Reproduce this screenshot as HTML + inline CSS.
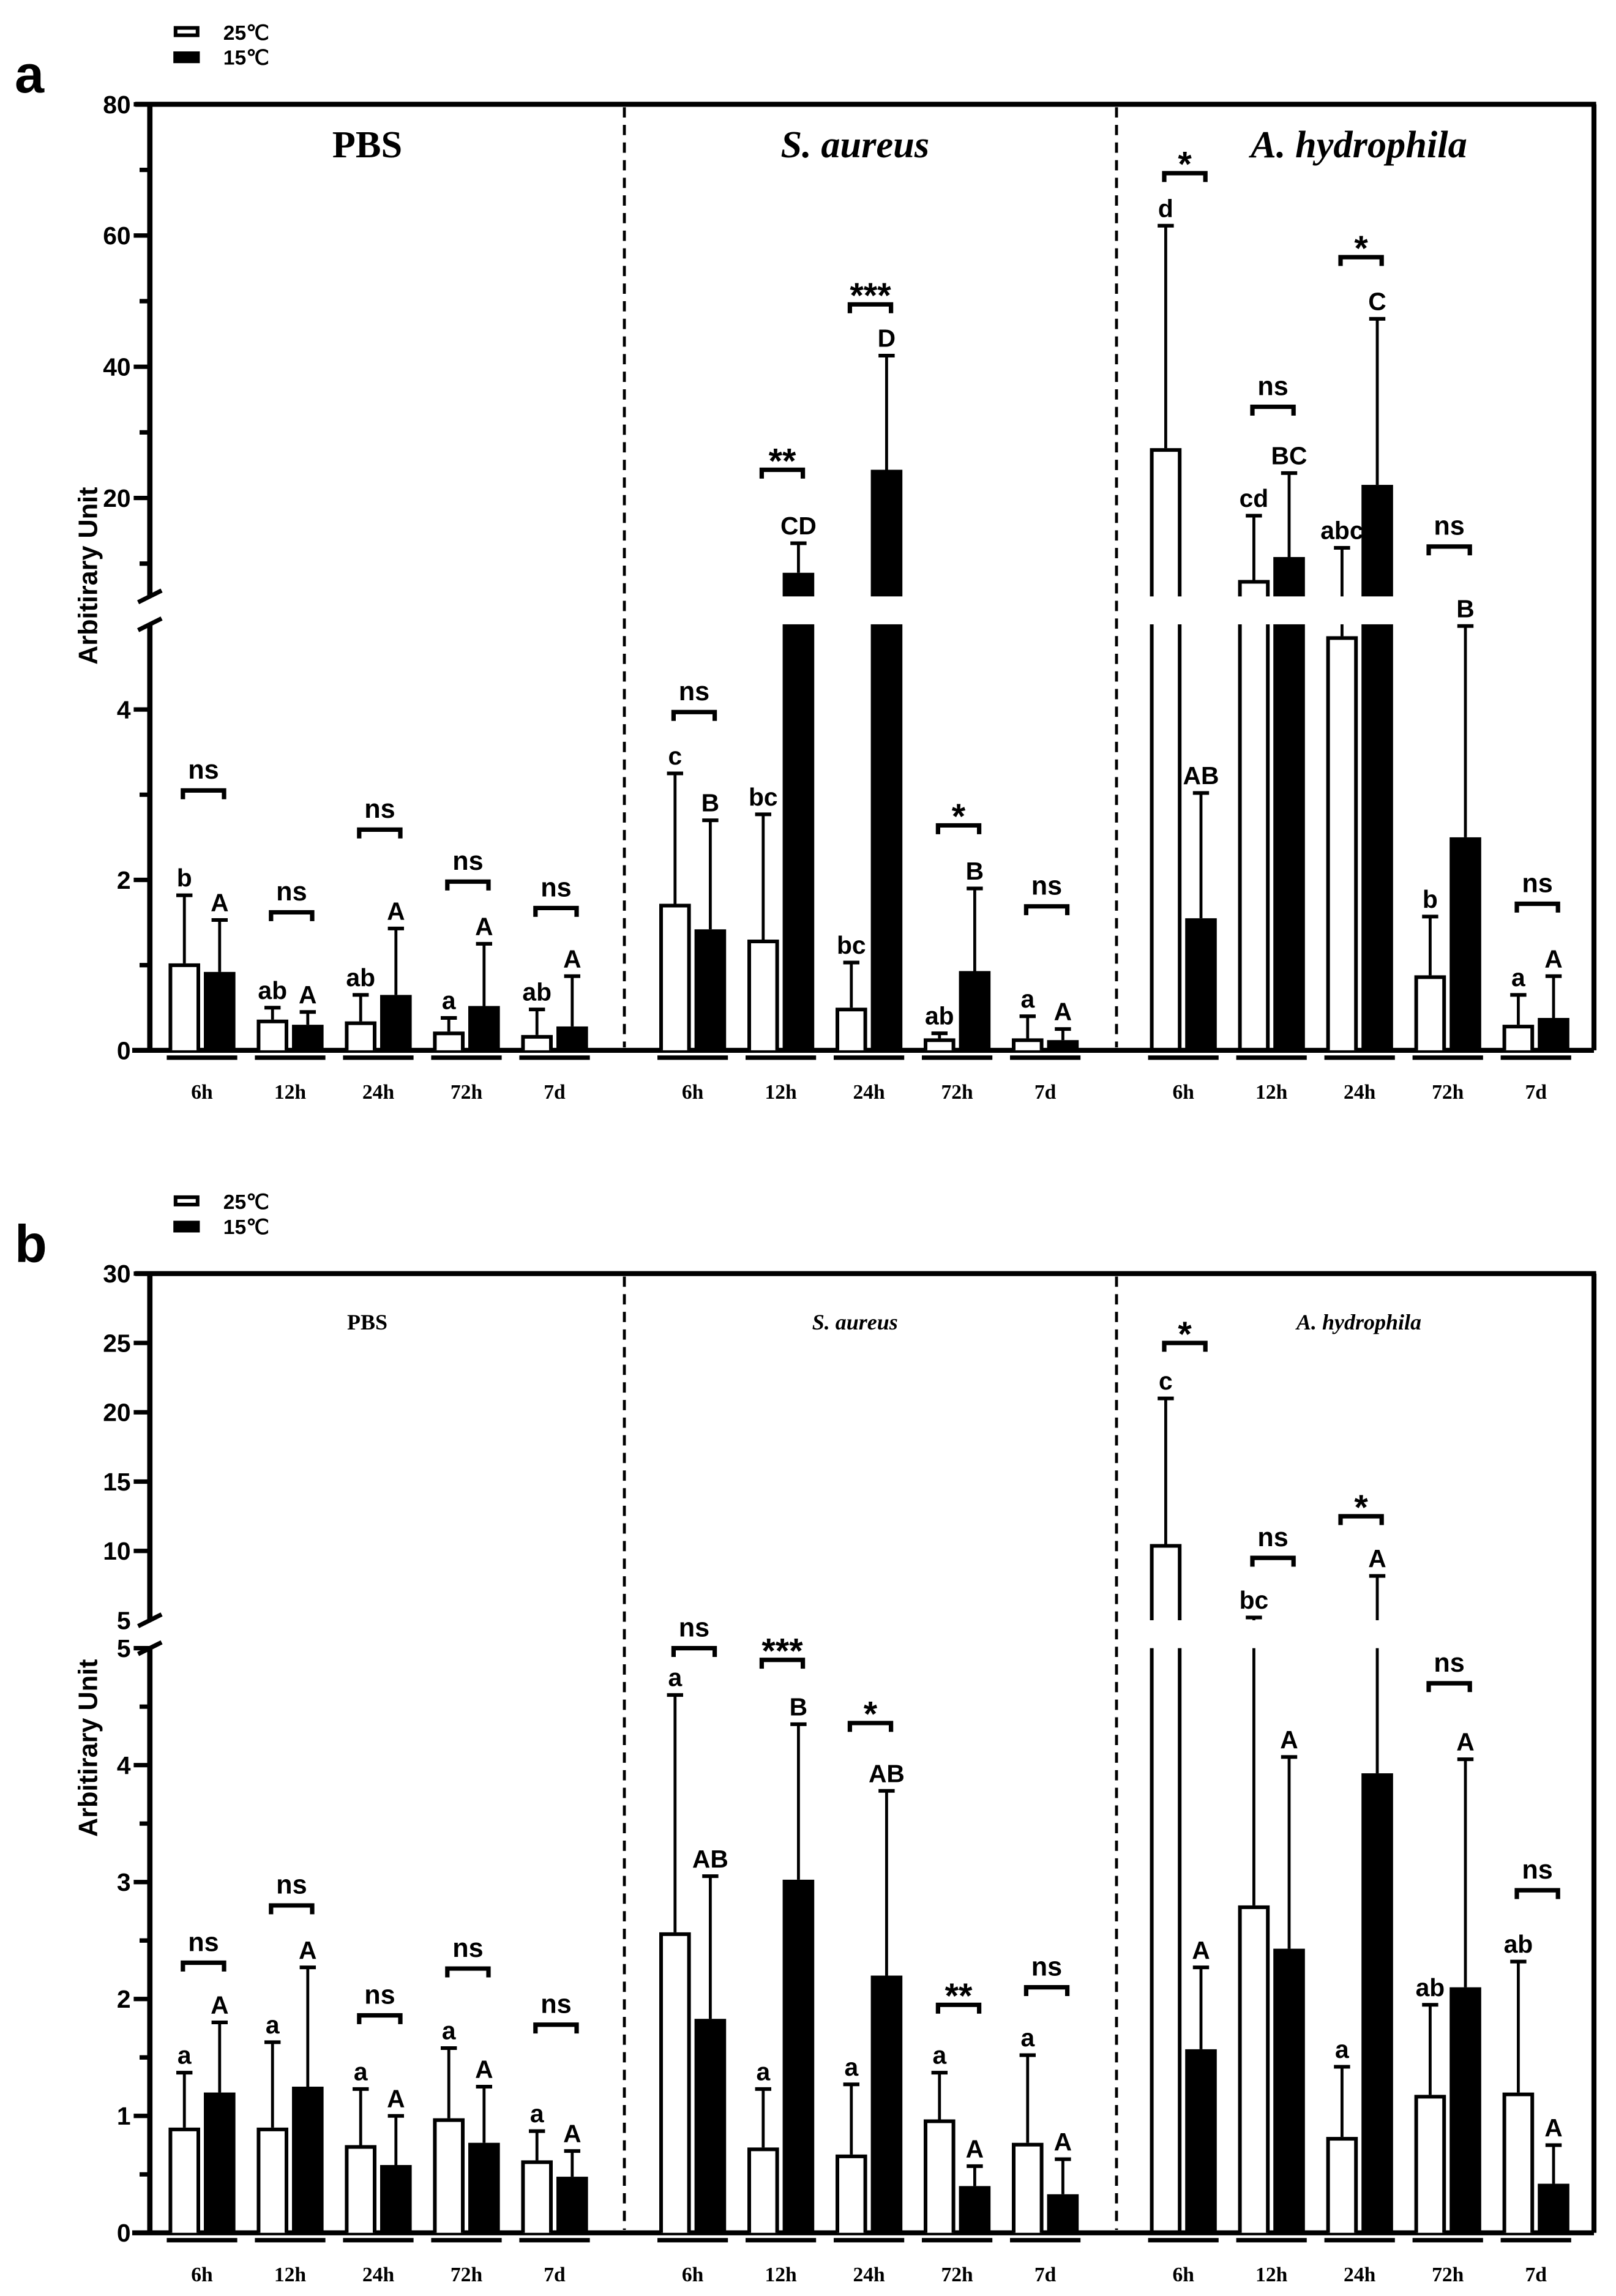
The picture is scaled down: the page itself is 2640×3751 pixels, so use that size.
<!DOCTYPE html>
<html><head><meta charset="utf-8"><style>
html,body{margin:0;padding:0;background:#fff;}
svg{display:block;}
text{font-family:"Liberation Sans",Arial,sans-serif;}
text.serif{font-family:"Liberation Serif","DejaVu Serif",serif;}
</style></head><body>
<svg id="chart" xmlns="http://www.w3.org/2000/svg" width="2640" height="3751" viewBox="0 0 1100 1563" preserveAspectRatio="none"></svg>
<script>
// ---- data ----
const categories = ["6h","12h","24h","72h","7d"];
const groups = ["PBS","S. aureus","A. hydrophila"];
// Panel a
const aWhite = [1.02,0.36,0.34,0.22,0.18, 1.72,1.3,0.5,0.14,0.14, 27.6,7.5,4.86,0.88,0.3];
const aWhiteErr = [1.82,0.5,0.65,0.38,0.48, 3.25,2.77,1.03,0.2,0.4, 61.5,17.3,12.4,1.57,0.65];
const aBlack = [0.92,0.3,0.65,0.52,0.28, 1.42,8.6,24.3,0.93,0.12, 1.55,11,22,2.5,0.38];
const aBlackErr = [1.53,0.45,1.43,1.25,0.87, 2.7,13.1,41.7,1.9,0.25, 3.02,23.8,47.3,4.98,0.87];
const aWhiteLetters = ["b","ab","ab","a","ab", "c","bc","bc","ab","a", "d","cd","abc","b","a"];
const aBlackLetters = ["A","A","A","A","A", "B","CD","D","B","A", "AB","BC","C","B","A"];
const aSig = ["ns","ns","ns","ns","ns", "ns","**","***","*","ns", "*","ns","*","ns","ns"];
const aSigLevel = [3.05,1.62,2.59,1.98,1.67, 3.97,24.3,49.5,2.64,1.69, 69.5,33.9,56.7,12.6,1.72];
// Panel b
const bWhite = [0.9,0.9,0.75,0.98,0.62, 2.57,0.73,0.67,0.97,0.77, 10.5,2.8,0.82,1.18,1.2];
const bWhiteErr = [1.37,1.63,1.23,1.58,0.87, 4.6,1.23,1.27,1.37,1.52, 21,5.2,1.42,1.95,2.32];
const bBlack = [1.2,1.25,0.58,0.77,0.48, 1.83,3.02,2.2,0.4,0.33, 1.57,2.43,3.93,2.1,0.42];
const bBlackErr = [1.8,2.27,1.0,1.25,0.7, 3.05,4.35,3.78,0.57,0.63, 2.27,4.07,8.2,4.05,0.75];
const bWhiteLetters = ["a","a","a","a","a", "a","a","a","a","a", "c","bc","a","ab","ab"];
const bBlackLetters = ["A","A","A","A","A", "AB","B","AB","A","A", "A","A","A","A","A"];
const bSig = ["ns","ns","ns","ns","ns", "ns","***","*","**","ns", "*","ns","*","ns","ns"];
const bSigLevel = [2.31,2.8,1.86,2.26,1.78, 5.0,4.9,4.36,1.95,2.1, 25,9.5,12.5,4.7,2.93];
const aMajorTicks = [0,2,4,20,40,60,80];
const aMinorTicks = [1,3,10,30,50,70];
const bMajorTicks = [0,1,2,3,4,5,10,15,20,25,30];
const bMinorTicks = [0.5,1.5,2.5,3.5,4.5];

const NS = "http://www.w3.org/2000/svg";
const svg = document.getElementById('chart');
function el(tag, attrs, parent, txt){
  const e = document.createElementNS(NS, tag);
  for (const k in attrs) e.setAttribute(k, attrs[k]);
  if (txt !== undefined) e.textContent = txt;
  (parent||svg).appendChild(e);
  return e;
}
const X0 = 102, X1 = 1085, BREAK = 5;
function groupCenter(i){ const g = Math.floor(i/5), k = i%5; return 137.5 + g*334 + k*60; }

function panel(p){
  const g = el('g', {});
  
  
  const y = v => v <= BREAK ? p.lowBot - (v/BREAK)*(p.lowBot - p.lowTop) : p.upBot - (v-BREAK)*(p.upBot - p.top)/(p.max-BREAK);
  const pl = el('text', {x:10, y:p.top-8, 'font-size':36, 'font-weight':'bold'}, g, p.id);
  
  
  const lg = el('g', {}, g);
  
  
  el('rect', {x:119.5, y:p.top-52, width:15, height:5, fill:'#fff', stroke:'#000', 'stroke-width':2.5}, lg);
  el('rect', {x:118, y:p.top-36, width:18, height:8, fill:'#000'}, lg);
  el('text', {x:152, y:p.top-44, 'font-size':14, 'font-weight':'bold'}, lg, '25℃');
  el('text', {x:152, y:p.top-27, 'font-size':14, 'font-weight':'bold'}, lg, '15℃');
  el('line', {x1:90, y1:p.lowBot, x2:X1, y2:p.lowBot, stroke:'#000', 'stroke-width':3.4}, g);
  el('line', {x1:92, y1:p.top, x2:X1+1.5, y2:p.top, stroke:'#000', 'stroke-width':3.4}, g);
  el('line', {x1:X1, y1:p.top, x2:X1, y2:p.lowBot, stroke:'#000', 'stroke-width':3.4}, g);
  el('line', {x1:X0, y1:p.top, x2:X0, y2:p.upBot, stroke:'#000', 'stroke-width':3.6}, g);
  el('line', {x1:X0, y1:p.lowTop, x2:X0, y2:p.lowBot, stroke:'#000', 'stroke-width':3.6}, g);
  el('line', {x1:94, y1:p.upBot+4, x2:110, y2:p.upBot-4, stroke:'#000', 'stroke-width':3}, g);
  el('line', {x1:94, y1:p.lowTop+4, x2:110, y2:p.lowTop-4, stroke:'#000', 'stroke-width':3}, g);
  [425,760].forEach(x=>{
    const d = el('line', {x1:x, y1:p.top+2, x2:x, y2:p.lowBot-2, stroke:'#000', 'stroke-width':2, 'stroke-dasharray':'7,5'}, g);
    
    
  });
  p.major.forEach(v=>{
    el('line', {x1:X0-11, y1:y(v), x2:X0, y2:y(v), stroke:'#000', 'stroke-width':3}, g);
    const t = el('text', {x:X0-13, y:y(v)+6, 'font-size':17, 'font-weight':'bold', 'text-anchor':'end'}, g, String(v));
    
    
  });
  if (p.id==='b') el('text', {x:X0-13, y:p.upBot+6, 'font-size':17, 'font-weight':'bold', 'text-anchor':'end'}, g, '5');
  p.minor.forEach(v=>{ el('line', {x1:X0-7, y1:y(v), x2:X0, y2:y(v), stroke:'#000', 'stroke-width':3}, g); });
  const yt = el('text', {x:0, y:0, 'font-size':18, 'font-weight':'bold', 'text-anchor':'middle', transform:`translate(66,${p.titleY}) rotate(-90)`}, g, 'Arbitirary Unit');
  
  
  groups.forEach((name,i)=>{
    const t = el('text', {x:[250,582,925][i], y:p.top+p.hdY, 'font-size':p.hdSize, 'font-weight':'bold', 'text-anchor':'middle', 'class':'serif', 'font-style': i===0?'normal':'italic'}, g, name);
    
    
  });
  function drawBar(cx, v, err, white, letter){
    const w = 21.5, l = cx - w/2, r = cx + w/2;
    const bg = el('g', {}, g);
    
    
    const et = y(err);
    if (err > BREAK && v <= BREAK){
      el('line', {x1:cx, y1:y(v), x2:cx, y2:p.lowTop, stroke:'#000', 'stroke-width':2}, bg);
      el('line', {x1:cx, y1:p.upBot, x2:cx, y2:et, stroke:'#000', 'stroke-width':2}, bg);
    } else el('line', {x1:cx, y1:y(v), x2:cx, y2:et, stroke:'#000', 'stroke-width':2}, bg);
    el('line', {x1:cx-5.5, y1:et, x2:cx+5.5, y2:et, stroke:'#000', 'stroke-width':2.5}, bg);
    const segs = [];
    if (v > BREAK){ segs.push([p.lowBot, p.lowTop, false]); segs.push([p.upBot, y(v), true]); }
    else segs.push([p.lowBot, y(v), true]);
    segs.forEach(([b,t,closed])=>{
      if (white){
        const d = closed ? `M${l+1.25},${b} L${l+1.25},${t+1.25} L${r-1.25},${t+1.25} L${r-1.25},${b}` : `M${l+1.25},${b} L${l+1.25},${t} M${r-1.25},${t} L${r-1.25},${b}`;
        el('path', {d, fill:closed?'#fff':'none', stroke:'#000', 'stroke-width':2.5}, bg);
      } else el('rect', {x:l, y:t, width:w, height:b-t, fill:'#000'}, bg);
    });
    const lt = el('text', {x:cx, y:et-6, 'font-size':17, 'font-weight':'bold', 'text-anchor':'middle'}, bg, letter);
    
    
  }
  for (let i=0;i<15;i++){
    const cx = groupCenter(i);
    drawBar(cx-12, p.white[i], p.whiteErr[i], true, p.wl[i]);
    drawBar(cx+12, p.black[i], p.blackErr[i], false, p.bl[i]);
    const by = y(p.sigLevel[i]);
    const br = el('path', {d:`M${cx-13},${by+6} L${cx-13},${by} L${cx+15},${by} L${cx+15},${by+6}`, fill:'none', stroke:'#000', 'stroke-width':3}, g);
    
    
    const st = el('text', {x:cx+1, y:by-(p.sig[i]==='ns'?8:-2), 'font-size':p.sig[i]==='ns'?18:24, 'font-weight':'bold', 'text-anchor':'middle'}, g, p.sig[i]);
    
    
    el('line', {x1:cx-24, y1:p.lowBot+5, x2:cx+24, y2:p.lowBot+5, stroke:'#000', 'stroke-width':3}, g);
    const xl = el('text', {x:cx, y:p.lowBot+33, 'font-size':14, 'font-weight':'bold', 'text-anchor':'middle', 'class':'serif'}, g, categories[i%5]);
    
    
  }
}
panel({id:'a', top:71, upBot:406, lowTop:425, lowBot:715, max:80, major:aMajorTicks, minor:aMinorTicks, titleY:392, hdY:36, hdSize:26,
  white:aWhite, whiteErr:aWhiteErr, black:aBlack, blackErr:aBlackErr, wl:aWhiteLetters, bl:aBlackLetters, sig:aSig, sigLevel:aSigLevel});
panel({id:'b', top:867, upBot:1103, lowTop:1122, lowBot:1520, max:30, major:bMajorTicks, minor:bMinorTicks, titleY:1190, hdY:38, hdSize:15,
  white:bWhite, whiteErr:bWhiteErr, black:bBlack, blackErr:bBlackErr, wl:bWhiteLetters, bl:bBlackLetters, sig:bSig, sigLevel:bSigLevel});
</script>
</body></html>
